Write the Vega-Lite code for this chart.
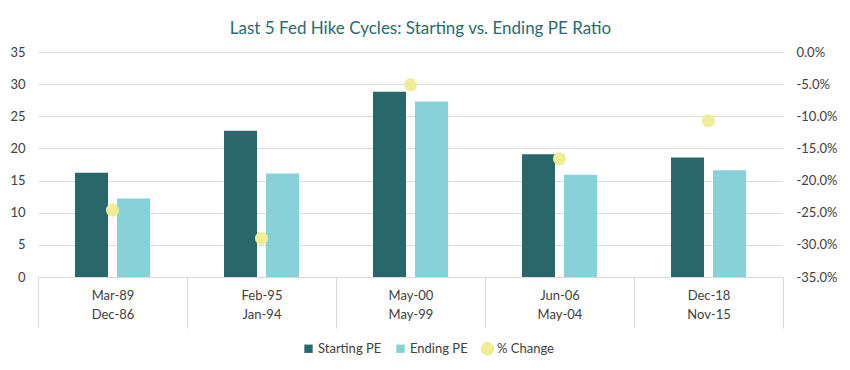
{
  "$schema": "https://vega.github.io/schema/vega-lite/v6.json",
  "width": 745,
  "height": 225,
  "autosize": {"type": "none"},
  "padding": {"left": 38, "top": 52, "right": 67, "bottom": 93},
  "background": "white",
  "title": {
    "text": "Last 5 Fed Hike Cycles: Starting vs. Ending PE Ratio",
    "font": "Lato",
    "fontSize": 17,
    "fontWeight": "normal",
    "color": "#2a6b6d",
    "anchor": "middle",
    "dx": 10,
    "offset": 8
  },
  "config": {
    "view": {"stroke": null},
    "axis": {"labelFont": "Lato", "labelFontSize": 13, "labelColor": "#404040", "titleFont": "Lato"},
    "legend": {"labelFont": "Lato", "labelFontSize": 13, "labelColor": "#404040"}
  },
  "datasets": {
    "bars": [
      {"cycle": "Mar-89|Dec-86", "series": "Starting PE", "pe": 16.2},
      {"cycle": "Mar-89|Dec-86", "series": "Ending PE", "pe": 12.2},
      {"cycle": "Feb-95|Jan-94", "series": "Starting PE", "pe": 22.75},
      {"cycle": "Feb-95|Jan-94", "series": "Ending PE", "pe": 16.1},
      {"cycle": "May-00|May-99", "series": "Starting PE", "pe": 28.8},
      {"cycle": "May-00|May-99", "series": "Ending PE", "pe": 27.3},
      {"cycle": "Jun-06|May-04", "series": "Starting PE", "pe": 19.1},
      {"cycle": "Jun-06|May-04", "series": "Ending PE", "pe": 15.9},
      {"cycle": "Dec-18|Nov-15", "series": "Starting PE", "pe": 18.6},
      {"cycle": "Dec-18|Nov-15", "series": "Ending PE", "pe": 16.6}
    ],
    "change": [
      {"cycle": "Mar-89|Dec-86", "series": "% Change", "pct": -0.246},
      {"cycle": "Feb-95|Jan-94", "series": "% Change", "pct": -0.29},
      {"cycle": "May-00|May-99", "series": "% Change", "pct": -0.051},
      {"cycle": "Jun-06|May-04", "series": "% Change", "pct": -0.166},
      {"cycle": "Dec-18|Nov-15", "series": "% Change", "pct": -0.107}
    ]
  },
  "encoding": {
    "x": {
      "field": "cycle",
      "type": "nominal",
      "sort": null,
      "scale": {"paddingInner": 0, "paddingOuter": 0},
      "axis": {
        "title": null,
        "labelAngle": 0,
        "labelExpr": "split(datum.label, '|')",
        "labelLineHeight": 19,
        "labelPadding": -39,
        "tickBand": "extent",
        "tickSize": 51,
        "tickColor": "#d9d9d9",
        "domainColor": "#d9d9d9",
        "grid": false
      }
    }
  },
  "layer": [
    {
      "data": {"name": "bars"},
      "mark": {"type": "bar"},
      "encoding": {
        "xOffset": {
          "field": "series",
          "type": "nominal",
          "sort": ["Starting PE", "Ending PE"],
          "scale": {"paddingInner": 0.214, "paddingOuter": 0.881}
        },
        "y": {
          "field": "pe",
          "type": "quantitative",
          "scale": {"domain": [0, 35], "nice": false},
          "axis": {
            "title": null,
            "values": [0, 5, 10, 15, 20, 25, 30, 35],
            "domain": false,
            "ticks": false,
            "labelPadding": 13,
            "grid": true,
            "gridColor": "#dcdcdc",
            "gridWidth": 1
          }
        },
        "color": {
          "field": "series",
          "type": "nominal",
          "scale": {
            "domain": ["Starting PE", "Ending PE", "% Change"],
            "range": ["#29676b", "#88d1d8", "#efed98"]
          },
          "legend": {
            "title": null,
            "orient": "none",
            "legendX": 264,
            "legendY": 290,
            "direction": "horizontal",
            "columnPadding": 12,
            "labelOffset": 3,
            "symbolStrokeWidth": 0,
            "encode": {
              "symbols": {
                "update": {
                  "shape": {"signal": "datum.value === '% Change' ? 'circle' : 'square'"},
                  "size": {"signal": "datum.value === '% Change' ? 190 : 70"},
                  "strokeWidth": {"value": 0}
                }
              }
            }
          }
        }
      }
    },
    {
      "data": {"name": "change"},
      "mark": {"type": "point", "filled": true, "opacity": 1, "size": 170},
      "encoding": {
        "y": {
          "field": "pct",
          "type": "quantitative",
          "scale": {"domain": [-0.35, 0], "nice": false},
          "axis": {
            "orient": "right",
            "title": null,
            "values": [-0.35, -0.3, -0.25, -0.2, -0.15, -0.1, -0.05, 0],
            "labelExpr": "replace(format(datum.value, '.1%'), '\u2212', '-')",
            "domain": false,
            "ticks": false,
            "grid": false,
            "labelPadding": 13
          }
        },
        "color": {"field": "series", "type": "nominal"}
      }
    }
  ],
  "resolve": {"scale": {"y": "independent"}}
}
